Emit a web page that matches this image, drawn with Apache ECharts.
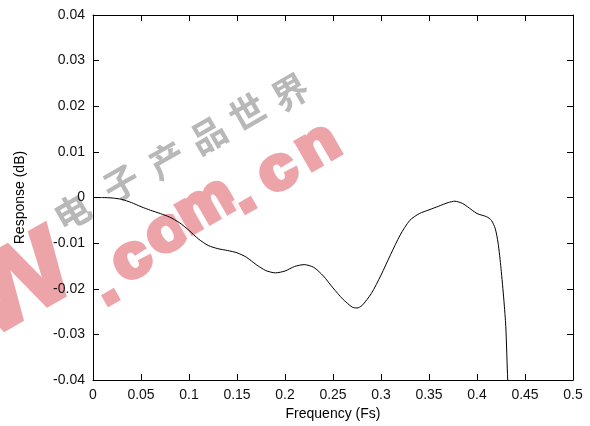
<!DOCTYPE html>
<html>
<head>
<meta charset="utf-8">
<script src="https://cdn.jsdelivr.net/npm/echarts/dist/echarts.min.js"></script>
<style>
html,body{margin:0;padding:0;background:#fff;}
#c{width:590px;height:426px;}
</style>
</head>
<body>
<div id="c"></div>
<script>
// Data
const freq = [0, 0.01, 0.02, 0.03, 0.04, 0.05, 0.06, 0.07, 0.08, 0.09, 0.10, 0.11, 0.12, 0.13, 0.14, 0.15, 0.16, 0.17, 0.18, 0.19, 0.20, 0.21, 0.22, 0.23, 0.24, 0.25, 0.26, 0.27, 0.275, 0.28, 0.29, 0.30, 0.31, 0.32, 0.33, 0.34, 0.35, 0.36, 0.37, 0.377, 0.385, 0.39, 0.40, 0.41, 0.415, 0.419, 0.422, 0.425, 0.428, 0.430, 0.432, 0.434];
const response = [0, 0, -0.0001, -0.0004, -0.0011, -0.0020, -0.0028, -0.0035, -0.0043, -0.0055, -0.0072, -0.0091, -0.0105, -0.0112, -0.0116, -0.0121, -0.0131, -0.0147, -0.0160, -0.0165, -0.0161, -0.0151, -0.0147, -0.0153, -0.0172, -0.0198, -0.0222, -0.0240, -0.0242, -0.0237, -0.0210, -0.0170, -0.0125, -0.0082, -0.0050, -0.0035, -0.0027, -0.0019, -0.0011, -0.0008, -0.0013, -0.0020, -0.0035, -0.0042, -0.0050, -0.0068, -0.0100, -0.0155, -0.0225, -0.0283, -0.0400, -0.0480];
const xTicks = ['0', '0.05', '0.1', '0.15', '0.2', '0.25', '0.3', '0.35', '0.4', '0.45', '0.5'];
const yTicks = ['-0.04', '-0.03', '-0.02', '-0.01', '0', '0.01', '0.02', '0.03', '0.04'];
const xTitle = 'Frequency (Fs)';
const yTitle = 'Response (dB)';
const wmLatin = ['w', '.', 'c', 'o', 'm', '.', 'c', 'n'];
const wmChinese = ['电', '子', '产', '品', '世', '界'];

const points = freq.map((f, i) => [f, response[i]]);
const font = 'Liberation Sans, Arial, Helvetica, sans-serif';

// watermark placement (visual layout only)
const latinPos = [[16, 280, 136], [105, 287, 60], [132, 260, 60], [167, 233, 60], [206, 206, 60], [242, 195, 60], [278, 172, 60], [318, 147, 60]];
const cnPos = [[72, 212], [121, 183], [167, 160], [208, 135], [247, 112], [290, 92]];
const rot = 0.52;
const pink = '#eca4a9';
const elements = [];
wmChinese.forEach((ch, i) => {
  elements.push({
    type: 'text', x: cnPos[i][0], y: cnPos[i][1], rotation: rot, z: 1,
    style: { text: ch, fill: '#b8b8b8', fontSize: 36, fontWeight: 'bold', fontFamily: 'Noto Sans CJK SC',
      align: 'center', verticalAlign: 'middle', stroke: 'rgba(255,255,255,0.8)', lineWidth: 5 }
  });
});
wmLatin.forEach((ch, i) => {
  const base = { type: 'text', x: latinPos[i][0], y: latinPos[i][1], rotation: rot, scaleX: i === 0 ? 1 : 1.1 };
  elements.push(Object.assign({}, base, { z: 1,
    style: { text: ch, fill: pink, fontSize: latinPos[i][2], fontWeight: 'bold', fontFamily: font,
      align: 'center', verticalAlign: 'middle', stroke: 'rgba(255,255,255,0.85)', lineWidth: 14 } }));
  elements.push(Object.assign({}, base, { z: 1,
    style: { text: ch, fill: pink, fontSize: latinPos[i][2], fontWeight: 'bold', fontFamily: font,
      align: 'center', verticalAlign: 'middle', stroke: pink, lineWidth: i === 0 ? 4 : 5 } }));
});

const tickFmt = (arr) => (v) => {
  const s = String(+v.toFixed(3));
  return arr.indexOf(s) >= 0 ? s : '';
};
const lineStyle = { show: true, onZero: false, lineStyle: { color: '#000', width: 1 } };
const tickStyle = { show: true, inside: true, length: 6, lineStyle: { color: '#000' } };

const chart = echarts.init(document.getElementById('c'), null, { renderer: 'canvas' });
chart.setOption({
  animation: false,
  backgroundColor: '#fff',
  grid: { left: 93, right: 17, top: 15, bottom: 42, containLabel: false },
  xAxis: [{
    type: 'value', min: 0, max: 0.5, interval: 0.05, position: 'bottom', z: 2,
    name: xTitle, nameLocation: 'middle', nameGap: 21,
    nameTextStyle: { fontFamily: font, fontSize: 14, color: '#000' },
    axisLine: lineStyle, axisTick: tickStyle,
    axisLabel: { fontFamily: font, fontSize: 14, color: '#111', margin: 8, formatter: tickFmt(xTicks) },
    splitLine: { show: false }
  }, {
    type: 'value', min: 0, max: 0.5, interval: 0.05, position: 'top', z: 2,
    axisLine: lineStyle, axisTick: tickStyle,
    axisLabel: { show: false }, splitLine: { show: false }
  }],
  yAxis: [{
    type: 'value', min: -0.04, max: 0.04, interval: 0.01, position: 'left', z: 2,
    name: yTitle, nameLocation: 'middle', nameGap: 66,
    nameTextStyle: { fontFamily: font, fontSize: 14, color: '#000' },
    axisLine: lineStyle, axisTick: tickStyle,
    axisLabel: { fontFamily: font, fontSize: 14, color: '#111', margin: 8, formatter: tickFmt(yTicks) },
    splitLine: { show: false }
  }, {
    type: 'value', min: -0.04, max: 0.04, interval: 0.01, position: 'right', z: 2,
    axisLine: lineStyle, axisTick: tickStyle,
    axisLabel: { show: false }, splitLine: { show: false }
  }],
  graphic: { elements: elements },
  series: [{
    type: 'line', data: points, xAxisIndex: 0, yAxisIndex: 0,
    smooth: 0.25, showSymbol: false, symbol: 'none', clip: true, z: 3,
    lineStyle: { color: '#000', width: 1 }
  }]
});
</script>
</body>
</html>
